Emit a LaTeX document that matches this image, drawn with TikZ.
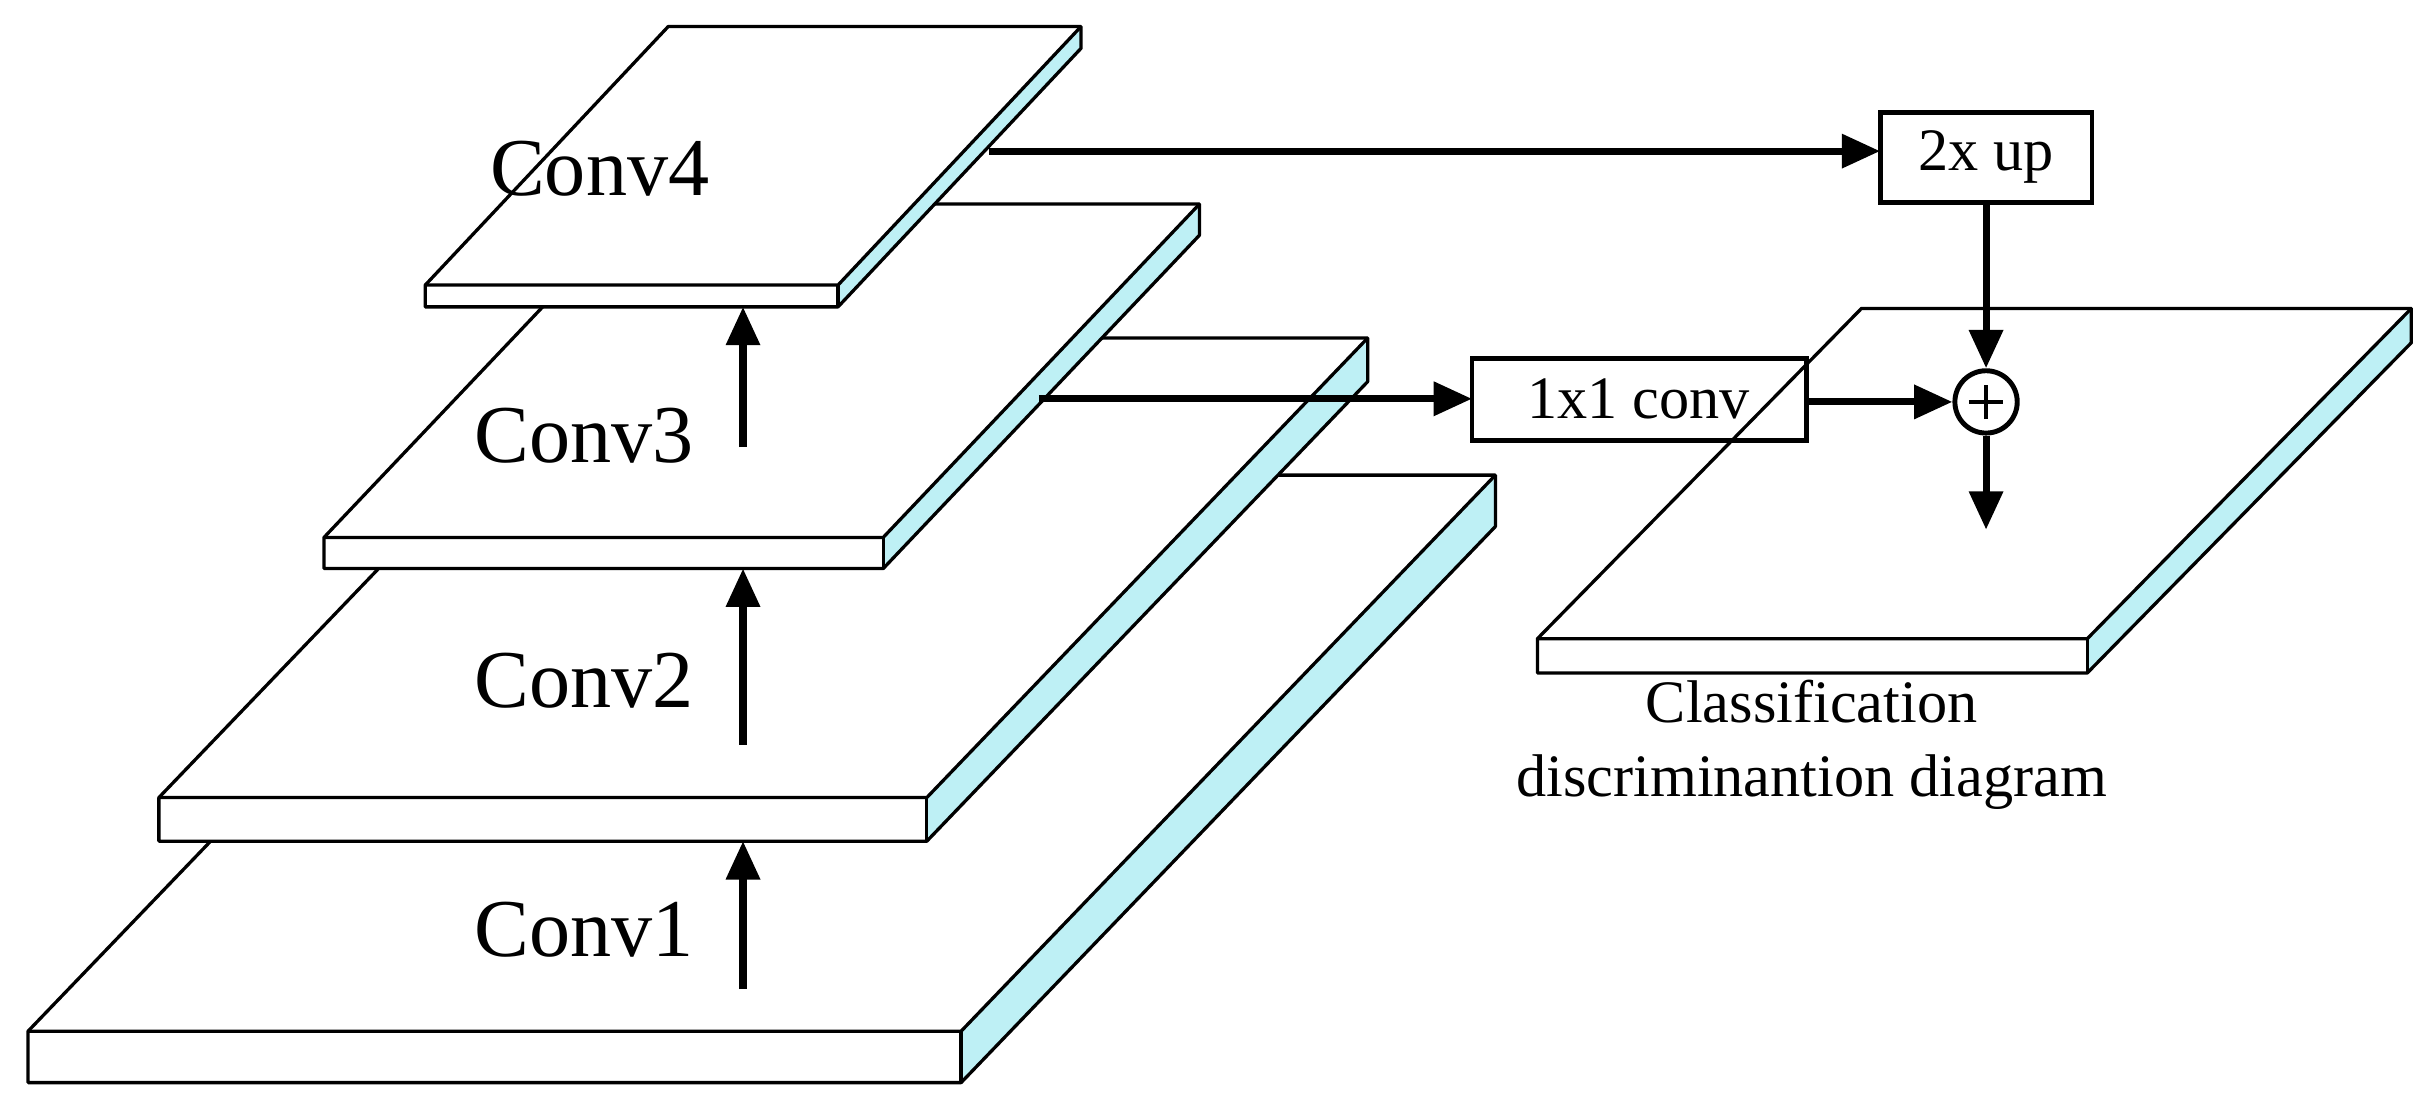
\documentclass[tikz,border=0pt]{standalone}
\usepackage{fontspec}
\setmainfont{Liberation Serif}
\usetikzlibrary{arrows.meta}
\definecolor{sidec}{RGB}{190,240,245}
\tikzset{
  edge/.style={line width=0.6pt,line join=round},
  arr/.style={line width=1.3pt,-{Triangle[length=7pt,width=6pt]}},
  lbl/.style={font=\fontsize{15}{17}\selectfont,inner sep=0pt},
  small/.style={font=\fontsize{11}{13.5}\selectfont,inner sep=0pt},
  box/.style={draw,line width=0.9pt,inner sep=0pt}
}
% plate: #1 x-left, #2 y-front-top, #3 x-right, #4 thickness, #5 dx, #6 dy
\newcommand{\myplate}[6]{%
  \fill[white] (#1,#2) -- (#3,#2) -- (#3+#5,#2-#6) -- (#1+#5,#2-#6) -- cycle;
  \fill[white] (#1,#2) rectangle (#3,#2+#4);
  \fill[sidec] (#3,#2) -- (#3+#5,#2-#6) -- (#3+#5,#2-#6+#4) -- (#3,#2+#4) -- cycle;
  \draw[edge] (#1,#2+#4) -- (#1,#2) -- (#1+#5,#2-#6) -- (#3+#5,#2-#6) -- (#3+#5,#2-#6+#4) -- (#3,#2+#4) -- cycle;
  \draw[edge] (#1,#2) -- (#3,#2) -- (#3+#5,#2-#6);
  \draw[edge] (#3,#2) -- (#3,#2+#4);
}
\begin{document}
\begin{tikzpicture}[x=0.01cm,y=-0.01cm]
\useasboundingbox (0,0) rectangle (1560,708);
\myplate{18}{662}{617}{33}{343}{357}
\myplate{102}{512}{595}{28}{283}{295}
\myplate{208}{345}{567}{20}{203}{214}
\myplate{273}{183}{538}{14}{156}{166}
\myplate{987}{410}{1340}{22}{208}{212}

\node[lbl] (c1) at (375,597) {Conv1};
\node[lbl] (c2) at (375,437) {Conv2};
\node[lbl] (c3) at (375,280) {Conv3};
\node[lbl] (c4) at (385,108) {Conv4};

\coordinate (a1s) at (477,635); \coordinate (a1e) at (477,540);
\coordinate (a2s) at (477,478); \coordinate (a2e) at (477,365);
\coordinate (a3s) at (477,287); \coordinate (a3e) at (477,197);
\draw[arr] (a1s) -- (a1e);
\draw[arr] (a2s) -- (a2e);
\draw[arr] (a3s) -- (a3e);

\draw[line width=0.9pt] (1207,72) rectangle (1343,130);
\node[small] (upt) at (1275,101) {2x up};
\draw[line width=0.9pt] (945,230) rectangle (1160,283);
\node[small] (cv) at (1052,256) {1x1 conv};
\coordinate (upL) at (1207,97); \coordinate (upB) at (1275,130);
\coordinate (cvL) at (945,256); \coordinate (cvR) at (1160,258);
\node[draw,circle,line width=0.9pt,minimum size=0.4cm,inner sep=0pt,fill=white] (sum) at (1275,258) {};
\draw[line width=0.8pt] ([yshift=-0.11cm]sum.center) -- ([yshift=0.11cm]sum.center)
  ([xshift=-0.11cm]sum.center) -- ([xshift=0.11cm]sum.center);
\coordinate (c4o) at (635,97); \coordinate (c3o) at (667,256);
\coordinate (outE) at (1275,340);
\draw[arr] (c4o) -- (upL);
\draw[arr] (upB) -- (sum.north);
\draw[arr] (c3o) -- (cvL);
\draw[arr] (cvR) -- (sum.west);
\draw[arr] (sum.south) -- (outE);
\node[small,align=center] (cls) at (1163,478) {Classification\\discriminantion diagram};
\end{tikzpicture}
\end{document}
